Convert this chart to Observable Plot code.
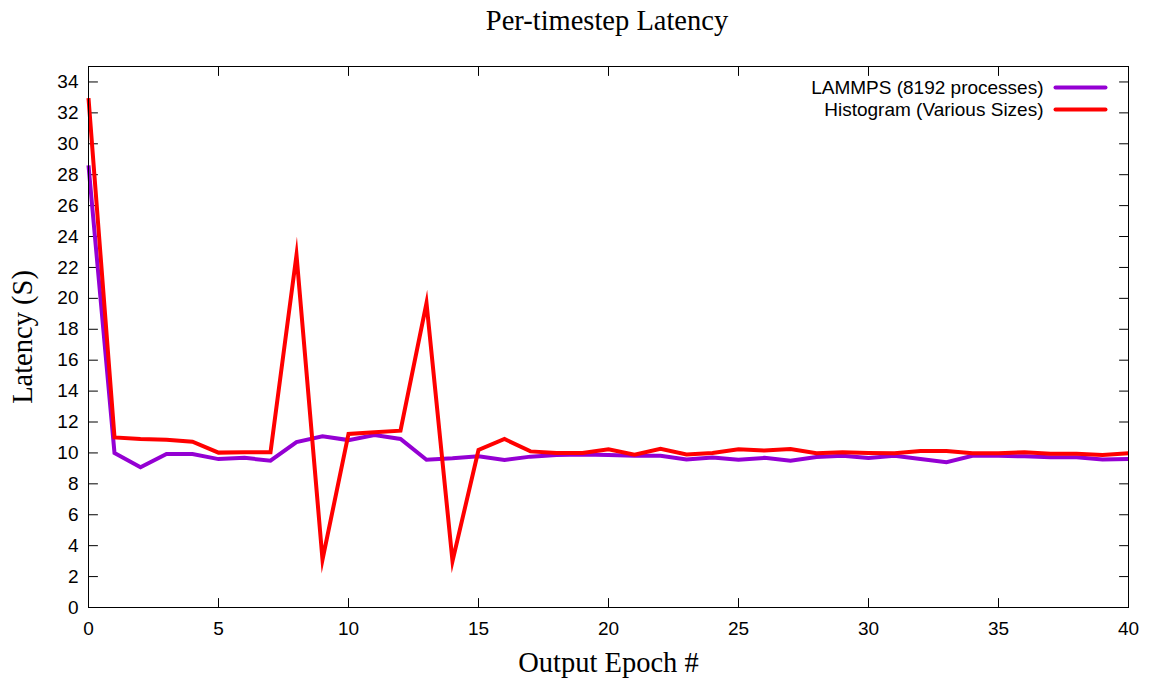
<!DOCTYPE html>
<html>
<head>
<meta charset="utf-8">
<script src="https://cdn.jsdelivr.net/npm/d3@7"></script>
<script src="https://cdn.jsdelivr.net/npm/@observablehq/plot@0.6"></script>
<style>
  body { margin: 0; background: #fff; }
  #title { width: 1152px; height: 45px; box-sizing: border-box; padding-left: 62px; text-align: center;
           font-family: "Liberation Serif", "DejaVu Serif", serif; font-size: 28.5px; line-height: 42px; color: #000; }
</style>
</head>
<body>
<div id="title">Per-timestep Latency</div>
<div id="chart"></div>
<script>
const epochs = [0,1,2,3,4,5,6,7,8,9,10,11,12,13,14,15,16,17,18,19,20,21,22,23,24,25,26,27,28,29,30,31,32,33,34,35,36,37,38,39,40];
const lammps = [28.6,10.0,9.07,9.93,9.93,9.6,9.68,9.5,10.7,11.07,10.83,11.16,10.9,9.56,9.65,9.78,9.55,9.76,9.87,9.9,9.87,9.82,9.82,9.58,9.7,9.56,9.68,9.5,9.74,9.82,9.68,9.82,9.61,9.4,9.82,9.82,9.78,9.72,9.72,9.58,9.6];
const histogram = [32.95,11.0,10.9,10.85,10.73,10.02,10.05,10.05,22.8,3.1,11.23,11.33,11.44,19.7,3.0,10.19,10.9,10.1,10.0,10.0,10.23,9.89,10.26,9.9,10.0,10.23,10.15,10.26,9.98,10.05,10.0,9.98,10.13,10.13,9.98,9.98,10.05,9.94,9.94,9.87,9.98];
const seriesNames = ["LAMMPS (8192 processes)", "Histogram (Various Sizes)"];
const seriesColors = ["#9400d3", "#ff0000"];
const xTicks = [0,5,10,15,20,25,30,35,40];
const yTicks = [0,2,4,6,8,10,12,14,16,18,20,22,24,26,28,30,32,34];

const rows = [
  ...epochs.map((e, i) => ({epoch: e, value: lammps[i], series: seriesNames[0]})),
  ...epochs.map((e, i) => ({epoch: e, value: histogram[i], series: seriesNames[1]}))
];

const sans = "Liberation Sans, Arial, sans-serif";
const serif = "Liberation Serif, Times New Roman, serif";
const tickShape = {draw(ctx, l) { ctx.moveTo(0, 0); ctx.lineTo(0, -l); }};
const tickOpts = {length: 9, anchor: "start", shape: tickShape, stroke: "#000", strokeWidth: 1};

const chart = Plot.plot({
  width: 1152,
  height: 634,
  marginLeft: 88,
  marginRight: 24,
  marginTop: 21,
  marginBottom: 72,
  style: {background: "#fff", color: "#000"},
  x: {domain: [0, 40], label: null},
  y: {domain: [0, 35], label: null},
  color: {domain: seriesNames, range: seriesColors},
  marks: [
    Plot.axisX(xTicks, {tickSize: 0, tickPadding: 14, fontSize: 19, fontFamily: sans, label: null}),
    Plot.axisY(yTicks, {tickSize: 0, tickPadding: 10, fontSize: 19, fontFamily: sans, label: null}),
    Plot.vector(xTicks, {x: d => d, frameAnchor: "bottom", rotate: 0, ...tickOpts}),
    Plot.vector(xTicks, {x: d => d, frameAnchor: "top", rotate: 180, ...tickOpts}),
    Plot.vector(yTicks, {y: d => d, frameAnchor: "left", rotate: 90, ...tickOpts}),
    Plot.vector(yTicks, {y: d => d, frameAnchor: "right", rotate: -90, ...tickOpts}),
    Plot.line(rows, {x: "epoch", y: "value", z: "series", stroke: "series", strokeWidth: 4,
      strokeLinejoin: "miter", strokeMiterlimit: 12, strokeLinecap: "butt"}),
    Plot.frame({stroke: "#000", strokeWidth: 1}),
    Plot.text([seriesNames[0]], {frameAnchor: "top-right", dx: -85, dy: 21, textAnchor: "end", lineAnchor: "middle", fontSize: 19, fontFamily: sans, fill: "#000"}),
    Plot.text([seriesNames[1]], {frameAnchor: "top-right", dx: -85, dy: 43, textAnchor: "end", lineAnchor: "middle", fontSize: 19, fontFamily: sans, fill: "#000"}),
    Plot.vector([seriesNames[0]], {frameAnchor: "top-right", dx: -23, dy: 21, rotate: 90, length: 50, anchor: "end", shape: tickShape, stroke: d => d, strokeWidth: 4}),
    Plot.vector([seriesNames[1]], {frameAnchor: "top-right", dx: -23, dy: 43, rotate: 90, length: 50, anchor: "end", shape: tickShape, stroke: d => d, strokeWidth: 4}),
    Plot.text(["Latency (S)"], {frameAnchor: "left", dx: -66, rotate: -90, textAnchor: "middle", lineAnchor: "middle", fontSize: 28.5, fontFamily: serif, fill: "#000"}),
    Plot.text(["Output Epoch #"], {frameAnchor: "bottom", dy: 55, textAnchor: "middle", lineAnchor: "middle", fontSize: 28.5, fontFamily: serif, fill: "#000"})
  ]
});
document.getElementById("chart").appendChild(chart);
</script>
</body>
</html>
